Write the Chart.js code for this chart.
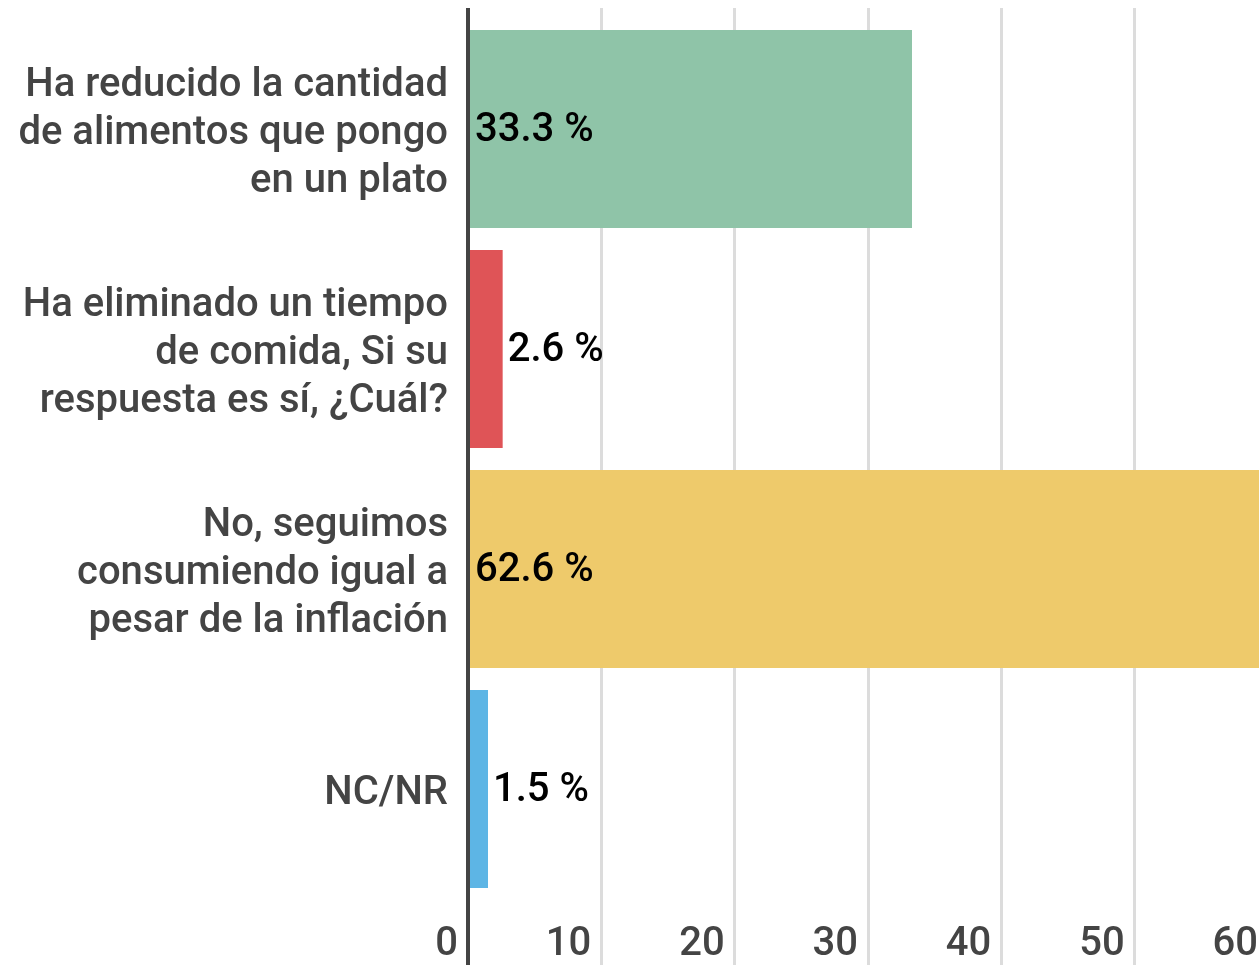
<!DOCTYPE html>
<html lang="es">
<head>
  <meta charset="UTF-8">
  <title>Consumo de alimentos e inflación</title>
  <script src="https://cdn.jsdelivr.net/npm/chart.js"></script>
  <style>
    html, body { margin: 0; padding: 0; background: #fff; overflow: hidden; }
    #wrap { width: 1270px; height: 965px; }
  </style>
</head>
<body>
  <div id="wrap">
    <canvas id="chart" width="1270" height="965"></canvas>
  </div>

  <script>
    const categories = [
      ["Ha reducido la cantidad", "de alimentos que pongo", "en un plato"],
      ["Ha eliminado un tiempo", "de comida, Si su", "respuesta es sí, ¿Cuál?"],
      ["No, seguimos", "consumiendo igual a", "pesar de la inflación"],
      "NC/NR"
    ];
    const values = [33.3, 2.6, 62.6, 1.5];
    const barColors = ["#8fc4a8", "#df5457", "#eeca6b", "#5db5e5"];
    const axisMin = 0;
    const axisMax = 60;
    const tickStep = 10;

    const fontFamily = "Roboto, 'Noto Sans', sans-serif";

    // draws "xx.x %" inside the bar start, or after the bar end when it doesn't fit
    const valueLabels = {
      id: "valueLabels",
      afterDatasetsDraw(chart) {
        const ctx = chart.ctx;
        const meta = chart.getDatasetMeta(0);
        ctx.save();
        ctx.font = "500 40px " + fontFamily;
        ctx.fillStyle = "#000";
        ctx.textBaseline = "middle";
        ctx.textAlign = "left";
        meta.data.forEach((bar, i) => {
          const txt = values[i].toFixed(1) + " %";
          const w = ctx.measureText(txt).width;
          const barLen = bar.x - bar.base;
          const x = (w + 14 < barLen) ? bar.base + 5 : bar.x + 5;
          ctx.fillText(txt, x, bar.y + 2);
        });
        ctx.restore();
      }
    };

    const gridColor = c => (c.tick && c.tick.value === 0) ? "#444" : "#dcdcdc";
    const gridWidth = c => (c.tick && c.tick.value === 0) ? 4 : 3;

    new Chart(document.getElementById("chart"), {
      type: "bar",
      data: {
        labels: categories,
        datasets: [{
          data: values,
          backgroundColor: barColors,
          borderWidth: 0,
          barPercentage: 0.9,
          categoryPercentage: 1.0
        }]
      },
      options: {
        indexAxis: "y",
        responsive: false,
        animation: false,
        devicePixelRatio: 1,
        layout: { padding: { top: 8, right: 2, left: 0, bottom: 0 } },
        plugins: {
          legend: { display: false },
          tooltip: { enabled: false }
        },
        scales: {
          x: {
            position: "bottom",
            min: axisMin,
            max: axisMax,
            border: { display: false },
            grid: { color: gridColor, lineWidth: gridWidth, tickLength: 66 },
            afterFit(scale) { scale.height = 66; },
            ticks: {
              stepSize: tickStep,
              align: "end",
              labelOffset: -10,
              padding: -44,
              autoSkip: false,
              maxRotation: 0,
              color: "#444",
              font: { family: fontFamily, size: 40, weight: "500", lineHeight: 1.2 }
            }
          },
          x2: {
            position: "top",
            axis: "x",
            min: axisMin,
            max: axisMax,
            border: { display: false },
            grid: { color: gridColor, lineWidth: gridWidth, tickLength: 11, drawOnChartArea: false },
            afterFit(scale) { scale.height = 11; },
            ticks: { stepSize: tickStep, display: false }
          },
          y: {
            border: { display: false },
            grid: { display: false, drawTicks: false },
            afterFit(scale) {
              scale.width = 468;
              scale.paddingTop = 0;
              scale.paddingBottom = 0;
            },
            ticks: {
              padding: 20,
              labelOffset: 5,
              color: "#444",
              font: { family: fontFamily, size: 40, weight: "500", lineHeight: 1.2 }
            }
          }
        }
      },
      plugins: [valueLabels]
    });
  </script>
</body>
</html>
